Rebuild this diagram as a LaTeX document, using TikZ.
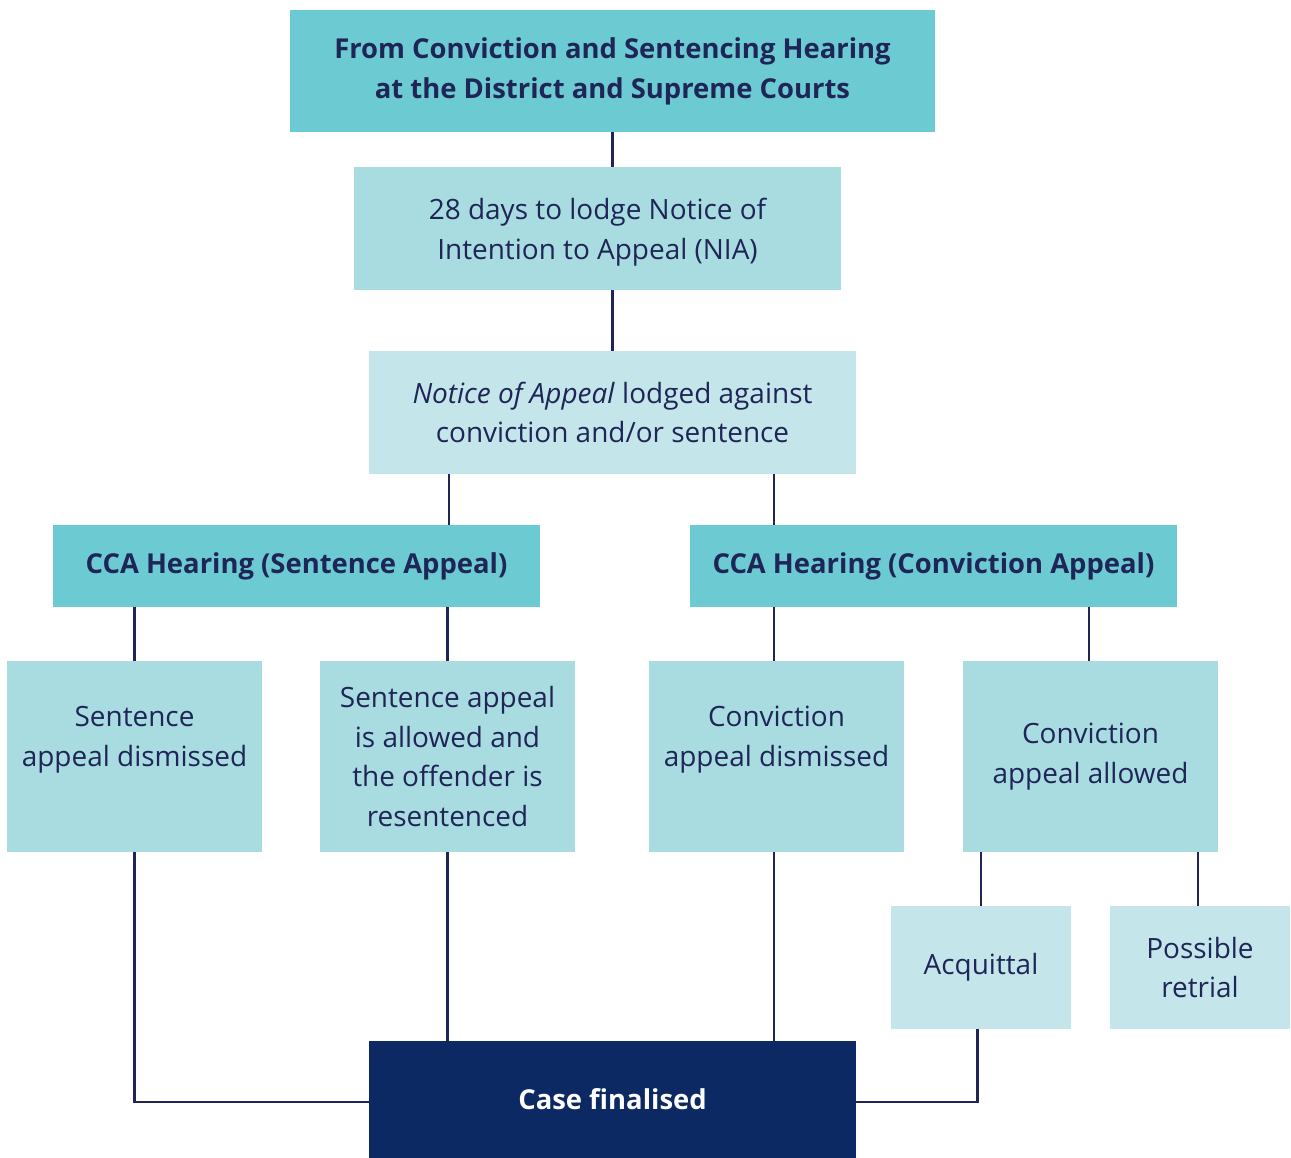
\documentclass[tikz,border=0pt]{standalone}
\usepackage{fontspec}
\setmainfont{Open Sans}
\usetikzlibrary{calc}
\definecolor{tealdark}{HTML}{6CCBD2}
\definecolor{tealmid}{HTML}{A9DCE1}
\definecolor{tealpale}{HTML}{C4E6EA}
\definecolor{navybox}{HTML}{0C2963}
\definecolor{inkblue}{HTML}{1F2557}
\tikzset{
  box/.style={rectangle, inner sep=0pt, align=center, text=inkblue,
    font=\fontsize{15.9}{22.7}\selectfont},
  headbox/.style={box, fill=tealdark, font=\fontsize{15.6}{22.7}\selectfont\bfseries},
  midbox/.style={box, fill=tealmid},
  palebox/.style={box, fill=tealpale},
  endbox/.style={box, fill=navybox, text=white, font=\fontsize{15.6}{22.7}\selectfont\bfseries},
  link/.style={draw=inkblue, line width=1.3pt}
}
\begin{document}
\begin{tikzpicture}
    \useasboundingbox (0,0) rectangle (25.82,-23.16);
    % Top of the chart: hearing, NIA, notice of appeal
    \node[headbox, minimum width=12.9cm, minimum height=2.44cm] (start) at (12.25,-1.42)
      {From Conviction and Sentencing Hearing\\at the District and Supreme Courts};
    \node[midbox, minimum width=9.74cm, minimum height=2.46cm] (nia) at (11.95,-4.57)
      {\\[-6pt]28 days to lodge Notice of\\Intention to Appeal (NIA)};
    \node[palebox, minimum width=9.74cm, minimum height=2.46cm] (notice) at (12.25,-8.25)
      {\textit{Notice of Appeal} lodged against\\conviction and/or sentence};
    % The two CCA hearings
    \node[headbox, minimum width=9.74cm, minimum height=1.64cm] (senthear) at (5.93,-11.32)
      {CCA Hearing (Sentence Appeal)};
    \node[headbox, minimum width=9.74cm, minimum height=1.64cm] (convhear) at (18.67,-11.32)
      {CCA Hearing (Conviction Appeal)};
    % Outcomes of each hearing (the dismissed ones sit a line higher)
    \node[midbox, minimum width=5.1cm, minimum height=3.82cm] (sentdis) at (2.69,-15.13)
      {Sentence\\appeal dismissed\\ \mbox{}};
    \node[midbox, minimum width=5.1cm, minimum height=3.82cm] (sentallow) at (8.95,-15.13)
      {Sentence appeal\\is allowed and\\the offender is\\resentenced};
    \node[midbox, minimum width=5.1cm, minimum height=3.82cm] (convdis) at (15.53,-15.13)
      {Conviction\\appeal dismissed\\ \mbox{}};
    \node[midbox, minimum width=5.1cm, minimum height=3.82cm] (convallow) at (21.81,-15.13)
      {Conviction\\appeal allowed};
    % After a conviction appeal is allowed
    \node[palebox, minimum width=3.6cm, minimum height=2.46cm] (acquit) at (19.62,-19.35)
      {Acquittal};
    \node[palebox, minimum width=3.6cm, minimum height=2.46cm] (retrial) at (24.0,-19.35)
      {Possible\\retrial};
    % End of the matter
    \node[endbox, minimum width=9.74cm, minimum height=2.34cm] (final) at (12.25,-21.99)
      {Case finalised};
    % Connecting lines
    \draw[link] (start.south) -- (start.south |- nia.north);
    \draw[link] (nia.south -| notice.north) -- (notice.north);
    \draw[link] ([xshift=-3.27cm]notice.south) -- ([xshift=-3.27cm]notice.south |- senthear.north);
    \draw[link] ([xshift=3.23cm]notice.south) -- ([xshift=3.23cm]notice.south |- convhear.north);
    \draw[link] (sentdis.north |- senthear.south) -- (sentdis.north);
    \draw[link] (sentallow.north |- senthear.south) -- (sentallow.north);
    \draw[link] ([xshift=-0.05cm]convdis.north |- convhear.south) -- ([xshift=-0.05cm]convdis.north);
    \draw[link] ([xshift=-0.03cm]convallow.north |- convhear.south) -- ([xshift=-0.03cm]convallow.north);
    \draw[link] (acquit.north |- convallow.south) -- (acquit.north);
    \draw[link] ([xshift=-0.04cm]retrial.north |- convallow.south) -- ([xshift=-0.04cm]retrial.north);
    \draw[link] (sentdis.south) |- ([yshift=-0.05cm]final.west);
    \draw[link] (sentallow.south) -- (sentallow.south |- final.north);
    \draw[link] ([xshift=-0.05cm]convdis.south) -- ([xshift=-0.05cm]convdis.south |- final.north);
    \draw[link] ([xshift=-0.07cm]acquit.south) |- ([yshift=-0.05cm]final.east);
\end{tikzpicture}
\end{document}
